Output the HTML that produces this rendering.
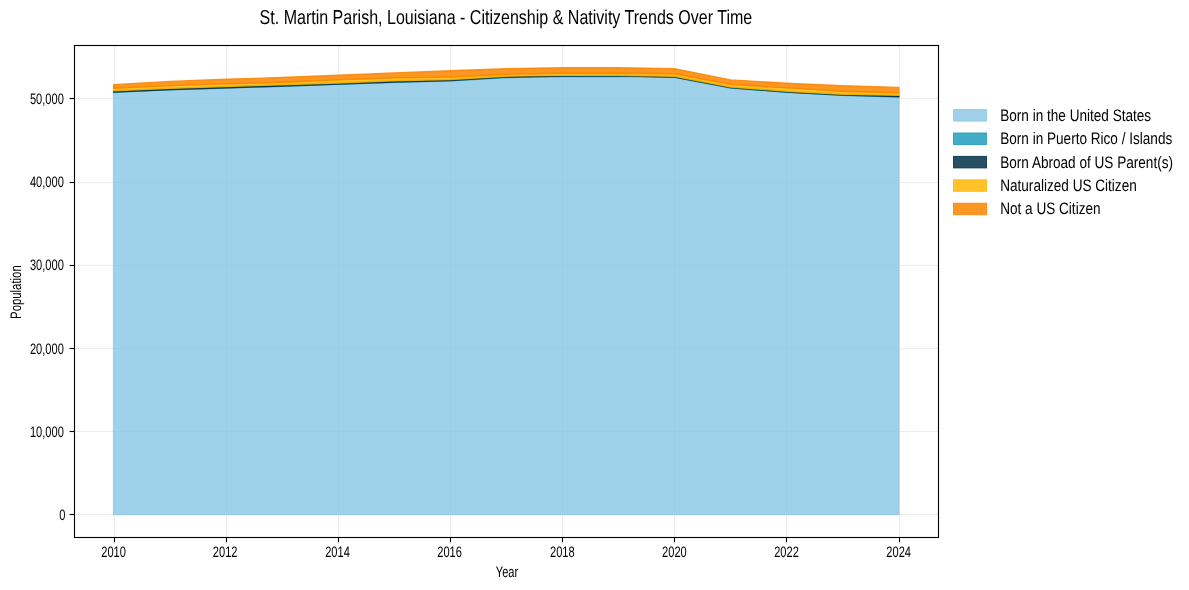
<!DOCTYPE html>
<html><head><meta charset="utf-8"><style>
html,body{margin:0;padding:0;background:#fff;width:1189px;height:590px;overflow:hidden}
svg{display:block;position:absolute;left:0;top:0;will-change:transform}
text{font-family:"Liberation Sans",sans-serif;fill:#000;text-rendering:geometricPrecision}
</style></head><body>
<svg width="1189" height="590" viewBox="0 0 1189 590">
<rect width="1189" height="590" fill="#fff"/>
<line x1="114.5" y1="45.5" x2="114.5" y2="537.5" stroke="#b0b0b0" stroke-opacity="0.24" stroke-width="1"/>
<line x1="226.5" y1="45.5" x2="226.5" y2="537.5" stroke="#b0b0b0" stroke-opacity="0.24" stroke-width="1"/>
<line x1="338.5" y1="45.5" x2="338.5" y2="537.5" stroke="#b0b0b0" stroke-opacity="0.24" stroke-width="1"/>
<line x1="450.5" y1="45.5" x2="450.5" y2="537.5" stroke="#b0b0b0" stroke-opacity="0.24" stroke-width="1"/>
<line x1="562.5" y1="45.5" x2="562.5" y2="537.5" stroke="#b0b0b0" stroke-opacity="0.24" stroke-width="1"/>
<line x1="674.5" y1="45.5" x2="674.5" y2="537.5" stroke="#b0b0b0" stroke-opacity="0.24" stroke-width="1"/>
<line x1="786.5" y1="45.5" x2="786.5" y2="537.5" stroke="#b0b0b0" stroke-opacity="0.24" stroke-width="1"/>
<line x1="899.5" y1="45.5" x2="899.5" y2="537.5" stroke="#b0b0b0" stroke-opacity="0.24" stroke-width="1"/>
<line x1="74.5" y1="514.5" x2="938.5" y2="514.5" stroke="#b0b0b0" stroke-opacity="0.24" stroke-width="1"/>
<line x1="74.5" y1="431.5" x2="938.5" y2="431.5" stroke="#b0b0b0" stroke-opacity="0.24" stroke-width="1"/>
<line x1="74.5" y1="348.5" x2="938.5" y2="348.5" stroke="#b0b0b0" stroke-opacity="0.24" stroke-width="1"/>
<line x1="74.5" y1="265.5" x2="938.5" y2="265.5" stroke="#b0b0b0" stroke-opacity="0.24" stroke-width="1"/>
<line x1="74.5" y1="182.5" x2="938.5" y2="182.5" stroke="#b0b0b0" stroke-opacity="0.24" stroke-width="1"/>
<line x1="74.5" y1="98.5" x2="938.5" y2="98.5" stroke="#b0b0b0" stroke-opacity="0.24" stroke-width="1"/>
<polygon points="113.60,92.40 169.69,89.90 225.78,88.10 281.87,86.30 337.96,84.40 394.05,82.30 450.14,80.80 506.23,77.50 562.32,76.50 618.41,76.20 674.50,77.40 730.59,88.00 786.68,92.30 842.77,95.30 898.86,97.00 898.86,514.60 842.77,514.60 786.68,514.60 730.59,514.60 674.50,514.60 618.41,514.60 562.32,514.60 506.23,514.60 450.14,514.60 394.05,514.60 337.96,514.60 281.87,514.60 225.78,514.60 169.69,514.60 113.60,514.60" fill="#8ECAE6" fill-opacity="0.85" stroke="#8ECAE6" stroke-opacity="0.85" stroke-width="1.39" stroke-linejoin="round"/>
<polygon points="113.60,92.05 169.69,89.55 225.78,87.75 281.87,85.95 337.96,84.05 394.05,81.95 450.14,80.45 506.23,77.15 562.32,76.15 618.41,75.85 674.50,77.05 730.59,87.65 786.68,91.95 842.77,94.95 898.86,96.65 898.86,97.00 842.77,95.30 786.68,92.30 730.59,88.00 674.50,77.40 618.41,76.20 562.32,76.50 506.23,77.50 450.14,80.80 394.05,82.30 337.96,84.40 281.87,86.30 225.78,88.10 169.69,89.90 113.60,92.40" fill="#219EBC" fill-opacity="0.85" stroke="#219EBC" stroke-opacity="0.85" stroke-width="1.39" stroke-linejoin="round"/>
<polygon points="113.60,90.80 169.69,88.40 225.78,86.60 281.87,84.70 337.96,83.00 394.05,80.70 450.14,79.50 506.23,76.20 562.32,75.40 618.41,75.20 674.50,76.20 730.59,87.00 786.68,91.20 842.77,94.30 898.86,95.20 898.86,96.65 842.77,94.95 786.68,91.95 730.59,87.65 674.50,77.05 618.41,75.85 562.32,76.15 506.23,77.15 450.14,80.45 394.05,81.95 337.96,84.05 281.87,85.95 225.78,87.75 169.69,89.55 113.60,92.05" fill="#023047" fill-opacity="0.85" stroke="#023047" stroke-opacity="0.85" stroke-width="1.39" stroke-linejoin="round"/>
<polygon points="113.60,88.20 169.69,85.60 225.78,83.90 281.87,82.20 337.96,79.90 394.05,77.90 450.14,77.00 506.23,74.20 562.32,73.20 618.41,73.20 674.50,73.70 730.59,84.40 786.68,87.90 842.77,91.20 898.86,92.70 898.86,95.20 842.77,94.30 786.68,91.20 730.59,87.00 674.50,76.20 618.41,75.20 562.32,75.40 506.23,76.20 450.14,79.50 394.05,80.70 337.96,83.00 281.87,84.70 225.78,86.60 169.69,88.40 113.60,90.80" fill="#FFB703" fill-opacity="0.85" stroke="#FFB703" stroke-opacity="0.85" stroke-width="1.39" stroke-linejoin="round"/>
<polygon points="113.60,84.60 169.69,81.40 225.78,79.30 281.87,77.50 337.96,75.20 394.05,72.90 450.14,70.80 506.23,68.80 562.32,67.70 618.41,67.70 674.50,68.70 730.59,79.90 786.68,83.20 842.77,85.70 898.86,87.40 898.86,92.70 842.77,91.20 786.68,87.90 730.59,84.40 674.50,73.70 618.41,73.20 562.32,73.20 506.23,74.20 450.14,77.00 394.05,77.90 337.96,79.90 281.87,82.20 225.78,83.90 169.69,85.60 113.60,88.20" fill="#FB8500" fill-opacity="0.85" stroke="#FB8500" stroke-opacity="0.85" stroke-width="1.39" stroke-linejoin="round"/>
<rect x="74.5" y="45.5" width="864.0" height="492.0" fill="none" stroke="#000" stroke-width="1.11"/>
<line x1="114.5" y1="537.5" x2="114.5" y2="542.36" stroke="#000" stroke-width="1.11"/>
<line x1="226.5" y1="537.5" x2="226.5" y2="542.36" stroke="#000" stroke-width="1.11"/>
<line x1="338.5" y1="537.5" x2="338.5" y2="542.36" stroke="#000" stroke-width="1.11"/>
<line x1="450.5" y1="537.5" x2="450.5" y2="542.36" stroke="#000" stroke-width="1.11"/>
<line x1="562.5" y1="537.5" x2="562.5" y2="542.36" stroke="#000" stroke-width="1.11"/>
<line x1="674.5" y1="537.5" x2="674.5" y2="542.36" stroke="#000" stroke-width="1.11"/>
<line x1="786.5" y1="537.5" x2="786.5" y2="542.36" stroke="#000" stroke-width="1.11"/>
<line x1="899.5" y1="537.5" x2="899.5" y2="542.36" stroke="#000" stroke-width="1.11"/>
<line x1="69.64" y1="514.5" x2="74.5" y2="514.5" stroke="#000" stroke-width="1.11"/>
<line x1="69.64" y1="431.5" x2="74.5" y2="431.5" stroke="#000" stroke-width="1.11"/>
<line x1="69.64" y1="348.5" x2="74.5" y2="348.5" stroke="#000" stroke-width="1.11"/>
<line x1="69.64" y1="265.5" x2="74.5" y2="265.5" stroke="#000" stroke-width="1.11"/>
<line x1="69.64" y1="182.5" x2="74.5" y2="182.5" stroke="#000" stroke-width="1.11"/>
<line x1="69.64" y1="98.5" x2="74.5" y2="98.5" stroke="#000" stroke-width="1.11"/>
<text transform="translate(505.90,23.70) scale(0.794,1)" font-size="20.2" text-anchor="middle">St. Martin Parish, Louisiana - Citizenship &amp; Nativity Trends Over Time</text>
<text transform="translate(113.60,556.50) scale(0.73,1)" font-size="15.2" text-anchor="middle">2010</text>
<text transform="translate(225.20,556.50) scale(0.73,1)" font-size="15.2" text-anchor="middle">2012</text>
<text transform="translate(337.50,556.50) scale(0.73,1)" font-size="15.2" text-anchor="middle">2014</text>
<text transform="translate(449.60,556.50) scale(0.73,1)" font-size="15.2" text-anchor="middle">2016</text>
<text transform="translate(562.30,556.50) scale(0.73,1)" font-size="15.2" text-anchor="middle">2018</text>
<text transform="translate(674.40,556.50) scale(0.73,1)" font-size="15.2" text-anchor="middle">2020</text>
<text transform="translate(786.50,556.50) scale(0.73,1)" font-size="15.2" text-anchor="middle">2022</text>
<text transform="translate(898.70,556.50) scale(0.73,1)" font-size="15.2" text-anchor="middle">2024</text>
<text transform="translate(65.40,520.20) scale(0.73,1)" font-size="15.2" text-anchor="end">0</text>
<text transform="translate(63.80,436.95) scale(0.73,1)" font-size="15.2" text-anchor="end">10,000</text>
<text transform="translate(63.80,353.70) scale(0.73,1)" font-size="15.2" text-anchor="end">20,000</text>
<text transform="translate(63.80,270.45) scale(0.73,1)" font-size="15.2" text-anchor="end">30,000</text>
<text transform="translate(63.80,187.20) scale(0.73,1)" font-size="15.2" text-anchor="end">40,000</text>
<text transform="translate(63.80,103.95) scale(0.73,1)" font-size="15.2" text-anchor="end">50,000</text>
<text transform="translate(507.00,576.70) scale(0.73,1)" font-size="15.2" text-anchor="middle">Year</text>
<text transform="translate(20.70,292.10) rotate(-90) scale(0.747,1)" font-size="15.2" text-anchor="middle">Population</text>
<rect x="953.5" y="109.60" width="33.0" height="11.5" fill="#8ECAE6" fill-opacity="0.85" stroke="#8ECAE6" stroke-opacity="0.85" stroke-width="1.0"/>
<text transform="translate(1000.20,120.70) scale(0.815,1)" font-size="16.67" text-anchor="start">Born in the United States</text>
<rect x="953.5" y="133.00" width="33.0" height="11.5" fill="#219EBC" fill-opacity="0.85" stroke="#219EBC" stroke-opacity="0.85" stroke-width="1.0"/>
<text transform="translate(1000.20,144.10) scale(0.815,1)" font-size="16.67" text-anchor="start">Born in Puerto Rico / Islands</text>
<rect x="953.5" y="156.40" width="33.0" height="11.5" fill="#023047" fill-opacity="0.85" stroke="#023047" stroke-opacity="0.85" stroke-width="1.0"/>
<text transform="translate(1000.20,167.50) scale(0.815,1)" font-size="16.67" text-anchor="start">Born Abroad of US Parent(s)</text>
<rect x="953.5" y="179.80" width="33.0" height="11.5" fill="#FFB703" fill-opacity="0.85" stroke="#FFB703" stroke-opacity="0.85" stroke-width="1.0"/>
<text transform="translate(1000.20,190.90) scale(0.815,1)" font-size="16.67" text-anchor="start">Naturalized US Citizen</text>
<rect x="953.5" y="203.20" width="33.0" height="11.5" fill="#FB8500" fill-opacity="0.85" stroke="#FB8500" stroke-opacity="0.85" stroke-width="1.0"/>
<text transform="translate(1000.20,214.30) scale(0.815,1)" font-size="16.67" text-anchor="start">Not a US Citizen</text>
</svg>
</body></html>
